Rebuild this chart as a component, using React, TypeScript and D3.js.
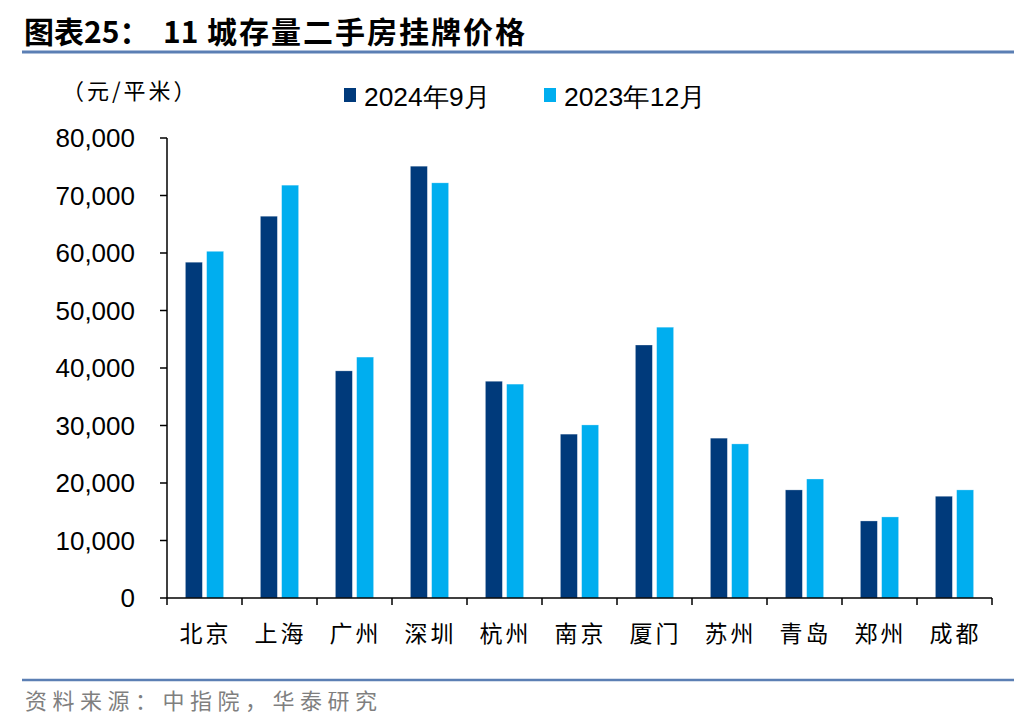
import React from "react";
import * as d3 from "d3";

const cities = ["北京", "上海", "广州", "深圳", "杭州", "南京", "厦门", "苏州", "青岛", "郑州", "成都"];
const series2024Sep = [58400, 66400, 39500, 75100, 37700, 28500, 44000, 27800, 18800, 13400, 17700];
const series2023Dec = [60300, 71800, 41900, 72200, 37200, 30100, 47100, 26800, 20700, 14100, 18800];
const seriesNames = ["2024年9月", "2023年12月"];
const seriesColors = ["#003A7B", "#00AEEF"];
const yTicks = [0, 10000, 20000, 30000, 40000, 50000, 60000, 70000, 80000];

const W = 1036;
const H = 728;
const left = 167;
const right = 992;
const top = 138;
const bottom = 598;

export default function App() {
  const x0 = d3.scaleBand<string>().domain(cities).range([left, right]).paddingInner(0.49).paddingOuter(0.245);
  const x1 = d3.scaleBand<number>().domain([0, 1]).range([0, x0.bandwidth()]).paddingInner(0.2);
  const y = d3.scaleLinear().domain([0, 80000]).range([bottom, top]);
  const step = x0.step();
  const fmt = d3.format(",");
  const data = [series2024Sep, series2023Dec];
  const sans = "'Liberation Sans', Arial, sans-serif";
  const cjk = "'Noto Sans CJK SC', sans-serif";

  return (
    <svg width={W} height={H} viewBox={`0 0 ${W} ${H}`} style={{ display: "block", position: "absolute", left: 0, top: 0, background: "#fff" }}>
      <rect x={0} y={0} width={W} height={H} fill="#fff" />
      {/* Title */}
      <text x={24} y={43} fontFamily={cjk} fontWeight={700} fontSize={30} fill="#000">
        图表25：
      </text>
      <text x={163} y={43} fontFamily={cjk} fontWeight={700} fontSize={30} fill="#000">
        <tspan>11 </tspan>
        <tspan x={207} letterSpacing={2}>城存量二手房挂牌价格</tspan>
      </text>
      <line x1={22} x2={1014} y1={52} y2={52} stroke="#5B7FB4" strokeWidth={3} />

      {/* Unit */}
      <text x={62} y={99} fontFamily={cjk} fontSize={22} fill="#000" letterSpacing={3}>（元/平米）</text>

      {/* Legend */}
      {seriesNames.map((n, i) => {
        const lx = i === 0 ? 344 : 544;
        return (
          <g key={n}>
            <rect x={lx} y={88} width={12} height={14} fill={seriesColors[i]} />
            <text x={lx + 20} y={106} fontFamily={sans} fontSize={26} fill="#000" textLength={i === 0 ? 126 : 142} lengthAdjust="spacingAndGlyphs">{n}</text>
          </g>
        );
      })}

      {/* Bars */}
      {cities.map((c, ci) => (
        <g key={c}>
          {data.map((s, si) => (
            <rect
              key={si}
              x={(x0(c) as number) + (x1(si) as number)}
              y={y(s[ci])}
              width={x1.bandwidth()}
              height={bottom - y(s[ci])}
              fill={seriesColors[si]}
              stroke="#ffffff"
              strokeOpacity={0.5}
              strokeWidth={0.6}
            />
          ))}
        </g>
      ))}

      {/* Y axis */}
      <line x1={left} x2={left} y1={top} y2={bottom} stroke="#000" strokeWidth={1.5} />
      {yTicks.map((t) => (
        <g key={t}>
          <line x1={left - 7} x2={left} y1={y(t)} y2={y(t)} stroke="#000" strokeWidth={1.5} />
          <text x={135} y={y(t)} dy="0.35em" textAnchor="end" fontFamily={sans} fontSize={26} fill="#000">{fmt(t)}</text>
        </g>
      ))}

      {/* X axis */}
      <line x1={left} x2={right} y1={bottom} y2={bottom} stroke="#000" strokeWidth={1.5} />
      {d3.range(cities.length + 1).map((i) => (
        <line key={i} x1={left + i * step} x2={left + i * step} y1={bottom} y2={bottom + 7} stroke="#000" strokeWidth={1.5} />
      ))}
      {cities.map((c) => (
        <text key={c} x={(x0(c) as number) + x0.bandwidth() / 2 + 1} y={642} textAnchor="middle" fontFamily={cjk} fontSize={23} letterSpacing={3} fill="#000">{c}</text>
      ))}

      {/* Footer */}
      <line x1={22} x2={1014} y1={680} y2={680} stroke="#5B7FB4" strokeWidth={2.5} />
      <text x={25} y={709} fontFamily={cjk} fontSize={22} fill="#7f7f7f" letterSpacing={5.5}>资料来源：中指院，华泰研究</text>
    </svg>
  );
}
